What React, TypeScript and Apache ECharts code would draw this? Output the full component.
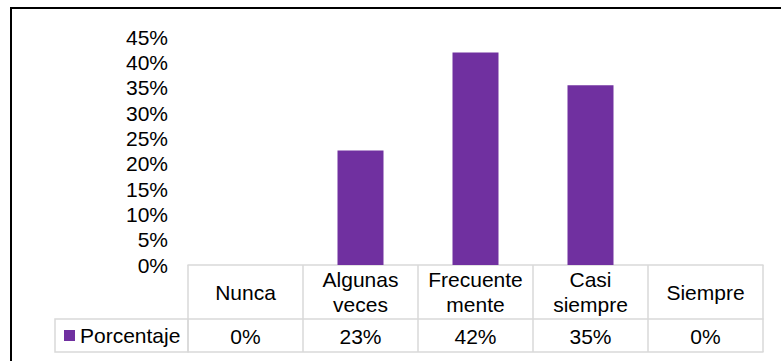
import React, { useEffect, useRef } from "react";
import * as echarts from "echarts";

// Survey answer categories and the share of respondents per answer (%)
const categories = ["Nunca", "Algunas\nveces", "Frecuente\nmente", "Casi\nsiempre", "Siempre"];
const percentages = [0, 22.58, 41.94, 35.48, 0];
const seriesName = "Porcentaje";

const FONT = 'Arial, "Liberation Sans", sans-serif';
const BAR_COLOR = "#7030A0";
const GRID_LINE = "#d9d9d9";

const fmtPct = (v: number) => `${Math.round(v)}%`;

export default function App() {
  const ref = useRef<HTMLDivElement>(null);

  useEffect(() => {
    if (!ref.current) return;
    const chart = echarts.init(ref.current, undefined, { renderer: "svg" });
    chart.setOption({
      animation: false,
      backgroundColor: "#fff",
      textStyle: { fontFamily: FONT },
      grid: { left: 188, right: 18, top: 37, bottom: 96, containLabel: false },
      legend: {
        data: [seriesName],
        left: 64,
        top: 325,
        padding: 0,
        icon: "rect",
        itemWidth: 11,
        itemHeight: 11,
        textStyle: { fontSize: 21, color: "#000", fontFamily: FONT },
        selectedMode: false,
      },
      yAxis: {
        type: "value",
        min: 0,
        max: 45,
        interval: 5,
        axisLine: { show: false },
        axisTick: { show: false },
        splitLine: { show: false },
        axisLabel: {
          formatter: "{value}%",
          fontSize: 21,
          color: "#000",
          margin: 20,
          fontFamily: FONT,
        },
      },
      xAxis: [
        {
          // header row of the data table: category names, cell borders via ticks
          type: "category",
          data: categories,
          position: "bottom",
          boundaryGap: true,
          axisLine: { show: true, lineStyle: { color: GRID_LINE, width: 1.5 } },
          axisTick: { show: true, length: 87, lineStyle: { color: GRID_LINE, width: 1.5 } },
          axisLabel: {
            interval: 0,
            fontSize: 21,
            lineHeight: 25,
            color: "#000",
            margin: 27,
            verticalAlign: "middle",
            fontFamily: FONT,
          },
        },
        {
          // value row of the data table
          type: "category",
          data: categories,
          position: "bottom",
          offset: 54,
          axisLine: { show: true, lineStyle: { color: GRID_LINE, width: 1.5 } },
          axisTick: { show: false },
          axisLabel: {
            interval: 0,
            fontSize: 21,
            color: "#000",
            margin: 17,
            verticalAlign: "middle",
            fontFamily: FONT,
            formatter: (_v: string, i: number) => fmtPct(percentages[i]),
          },
        },
        {
          // bottom edge of the data table
          type: "category",
          data: categories,
          position: "bottom",
          offset: 87,
          axisLine: { show: true, lineStyle: { color: GRID_LINE, width: 1.5 } },
          axisTick: { show: false },
          axisLabel: { show: false },
        },
      ],
      series: [
        {
          name: seriesName,
          type: "bar",
          xAxisIndex: 0,
          data: percentages,
          barWidth: "40%",
          itemStyle: { color: BAR_COLOR },
        },
      ],
      graphic: [
        {
          // chart frame
          type: "rect",
          shape: { x: 11, y: 8, width: 900, height: 500 },
          style: { fill: "none", stroke: "#000", lineWidth: 2 },
          silent: true,
        },
        {
          // legend key cell of the data table
          type: "rect",
          shape: { x: 55, y: 319, width: 133, height: 33 },
          style: { fill: "none", stroke: GRID_LINE, lineWidth: 1.5 },
          silent: true,
        },
      ],
    });
    return () => chart.dispose();
  }, []);

  return (
    <div
      ref={ref}
      style={{ position: "fixed", left: 0, top: 0, width: 781, height: 361 }}
    />
  );
}
